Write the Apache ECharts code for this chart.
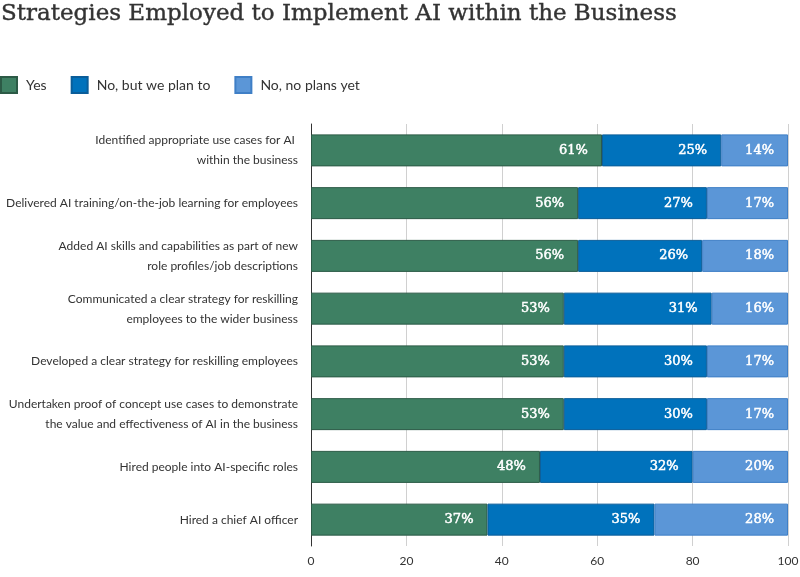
<!DOCTYPE html>
<html>
<head>
<meta charset="utf-8">
<script src="https://cdn.jsdelivr.net/npm/echarts@6/dist/echarts.min.js"></script>
<style>
  html, body { margin: 0; padding: 0; background: #fff; }
  #chart { width: 800px; height: 577px; }
</style>
</head>
<body>
<div id="chart"></div>
<script>
// categories, top to bottom
const categories = [
  'Identified appropriate use cases for AI \nwithin the business',
  'Delivered AI training/on-the-job learning for employees',
  'Added AI skills and capabilities as part of new\nrole profiles/job descriptions',
  'Communicated a clear strategy for reskilling\nemployees to the wider business',
  'Developed a clear strategy for reskilling employees',
  'Undertaken proof of concept use cases to demonstrate\nthe value and effectiveness of AI in the business',
  'Hired people into AI-specific roles',
  'Hired a chief AI officer'
]
const yesValues = [61, 56, 56, 53, 53, 53, 48, 37]
const planValues = [25, 27, 26, 31, 30, 30, 32, 35]
const noPlanValues = [14, 17, 18, 16, 17, 17, 20, 28]
const xTicks = [0, 20, 40, 60, 80, 100]

const chart = echarts.init(document.getElementById('chart'))

// same look for every stacked segment
const makeSeries = (name, data, color, border) => ({
  name: name,
  type: 'bar',
  stack: 'total',
  barWidth: 32,
  data: data,
  itemStyle: { color: color, borderColor: border, borderWidth: 1 },
  label: {
    show: true,
    position: 'insideRight',
    distance: 14,
    formatter: '{c}%',
    color: '#fff',
    fontFamily: 'DejaVu Serif',
    fontSize: 13,
    textBorderColor: '#fff',
    textBorderWidth: 0.5
  }
})

chart.setOption({
  animation: false,
  title: {
    text: 'Strategies Employed to Implement AI within the Business',
    left: 0,
    top: 3,
    padding: [0, 0, 0, 1],
    textStyle: {
      fontFamily: 'DejaVu Serif',
      fontSize: 23,
      fontWeight: 'normal',
      color: '#333',
      textBorderColor: '#333',
      textBorderWidth: 0.4
    }
  },
  legend: {
    left: 0,
    top: 76,
    padding: 0,
    itemWidth: 16,
    itemHeight: 16,
    itemGap: 24,
    icon: 'rect',
    textStyle: { fontFamily: 'Lato', fontSize: 14, color: '#333', padding: [0, 0, 0, 4] },
    data: ['Yes', 'No, but we plan to', 'No, no plans yet']
  },
  grid: { left: 311, right: 12, top: 124, bottom: 31, outerBoundsMode: 'none', containLabel: false },
  xAxis: {
    type: 'value',
    min: 0,
    max: 100,
    interval: 20,
    axisLine: { show: false },
    axisTick: { show: false },
    splitLine: { lineStyle: { color: '#d0d0d0', width: 1 } },
    axisLabel: {
      fontFamily: 'Lato',
      fontSize: 12,
      color: '#333',
      margin: 9,
      formatter: v => (xTicks.includes(v) ? String(v) : '')
    }
  },
  yAxis: {
    type: 'category',
    inverse: true,
    data: categories,
    axisLine: { show: true, lineStyle: { color: '#333', width: 1 } },
    axisTick: { show: false },
    axisLabel: {
      fontFamily: 'Lato',
      fontSize: 12,
      color: '#333',
      margin: 13,
      lineHeight: 20,
      align: 'right'
    }
  },
  series: [
    makeSeries('Yes', yesValues, '#3e8063', '#2c5a46'),
    makeSeries('No, but we plan to', planValues, '#0072bc', '#0a5d99'),
    makeSeries('No, no plans yet', noPlanValues, '#5b96d7', '#3f7fc6')
  ]
})
</script>
</body>
</html>
